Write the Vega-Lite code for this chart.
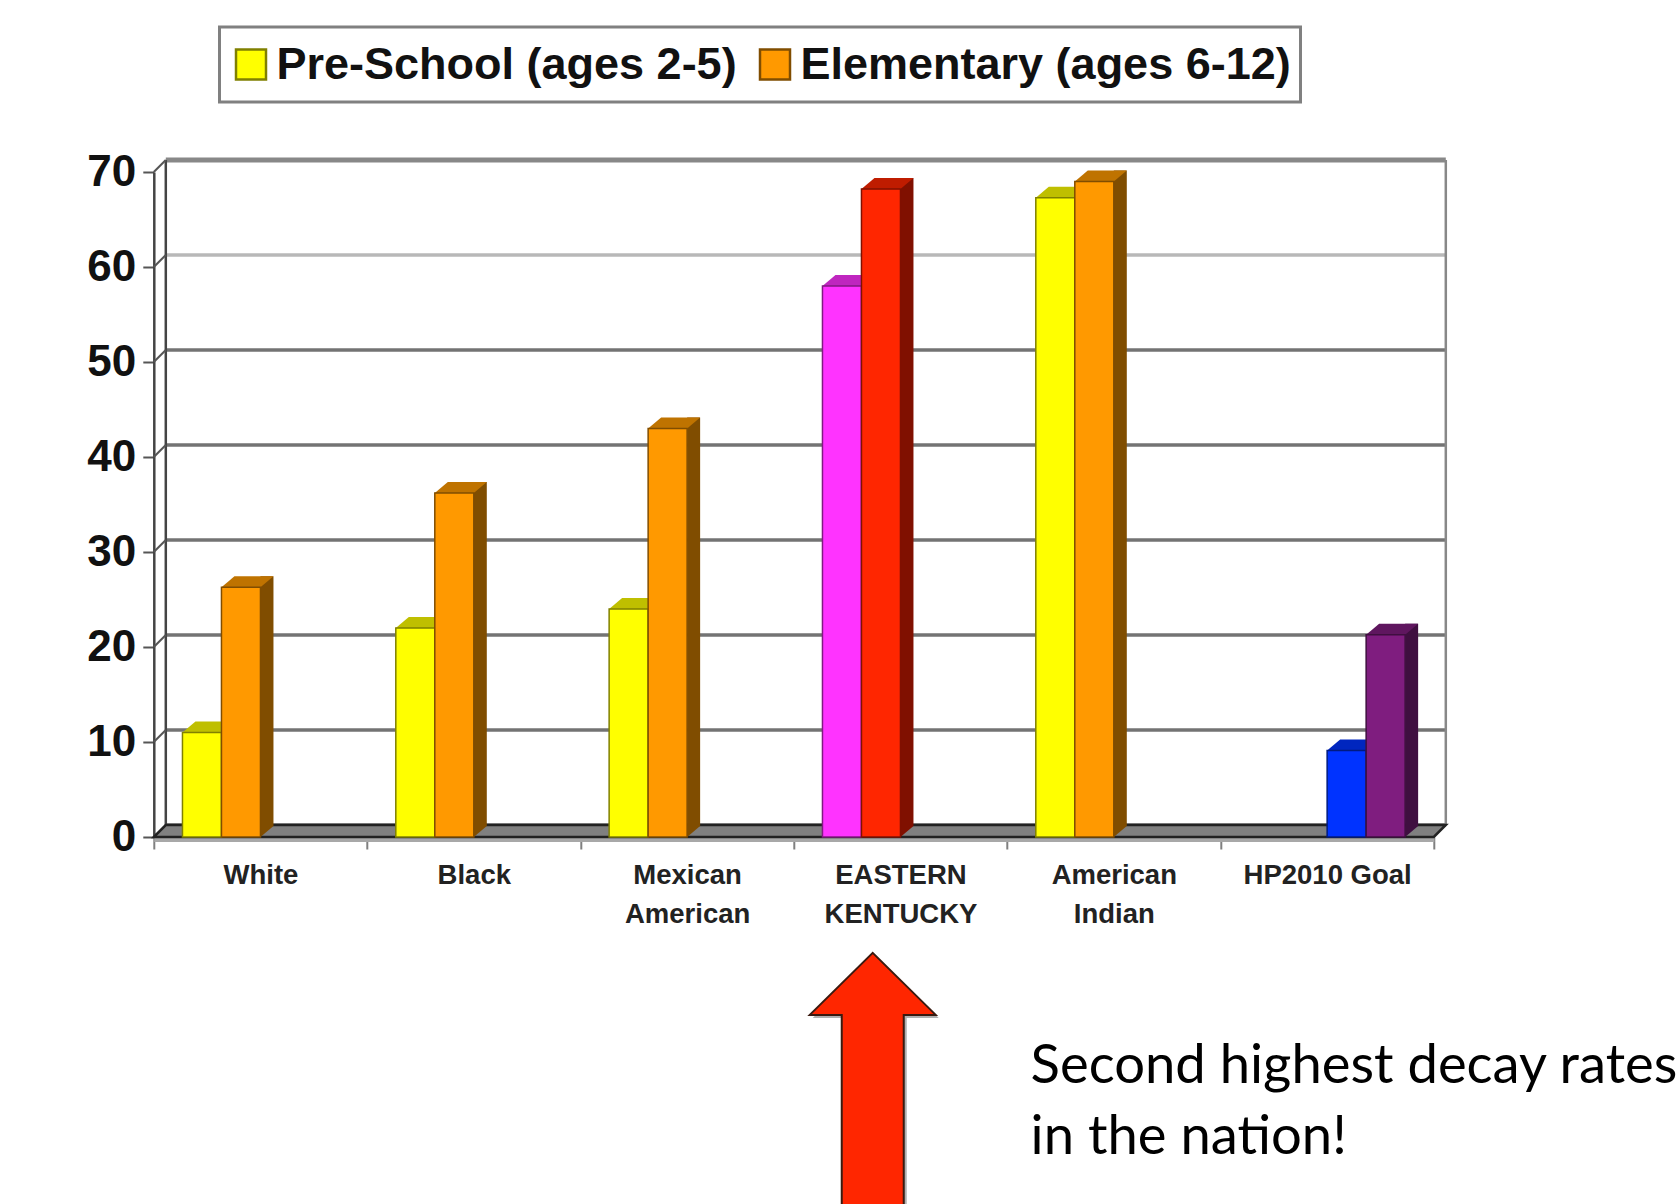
{
"$schema":"https://vega.github.io/schema/vega-lite/v6.json",
"width":1280,"height":665,
"autosize":{"type":"none"},
"padding":{"left":153.8,"top":172,"right":245.2,"bottom":367},
"background":"#ffffff",
"config":{"view":{"stroke":null},"legend":{"strokeWidth":3}},
"datasets":{
"bars":[
{"group":"White","series":"Pre-School","key":"Pre-School (ages 2-5)","rate":11},
{"group":"White","series":"Elementary","key":"Elementary (ages 6-12)","rate":26.3},
{"group":"Black","series":"Pre-School","key":"Pre-School (ages 2-5)","rate":22},
{"group":"Black","series":"Elementary","key":"Elementary (ages 6-12)","rate":36.2},
{"group":"Mexican American","series":"Pre-School","key":"Pre-School (ages 2-5)","rate":24},
{"group":"Mexican American","series":"Elementary","key":"Elementary (ages 6-12)","rate":43},
{"group":"EASTERN KENTUCKY","series":"Pre-School","key":"Eastern Kentucky Pre-School","rate":58},
{"group":"EASTERN KENTUCKY","series":"Elementary","key":"Eastern Kentucky Elementary","rate":68.2},
{"group":"American Indian","series":"Pre-School","key":"Pre-School (ages 2-5)","rate":67.3},
{"group":"American Indian","series":"Elementary","key":"Elementary (ages 6-12)","rate":69},
{"group":"HP2010 Goal","series":"Goal Pre-School","key":"HP2010 Goal Pre-School","rate":9.1},
{"group":"HP2010 Goal","series":"Goal Elementary","key":"HP2010 Goal Elementary","rate":21.3}
],
"grid":[{"group":"White","v":0},{"group":"White","v":10},{"group":"White","v":20},{"group":"White","v":30},{"group":"White","v":40},{"group":"White","v":50},{"group":"White","v":60},{"group":"White","v":70}],
"wall":[{"group":"White","from":0,"to":70},{"group":"HP2010 Goal","from":0,"to":70}],
"arrow":[{"group":"EASTERN KENTUCKY","at":-12.2}],
"note":[{"group":"American Indian","at":-25.9,"line":"Second highest decay rates"},{"group":"American Indian","at":-33.4,"line":"in the nation!"}]
},
"layer":[
{"data":{"name":"grid"},
 "mark":{"type":"rule","xOffset":12,"x2Offset":12,"yOffset":-12},
 "encoding":{
  "y":{"field":"v","type":"quantitative","scale":{"domain":[0,70],"nice":false},
   "axis":{"values":[0,10,20,30,40,50,60,70],"title":null,"grid":false,"domainColor":"#444444","domainWidth":2.5,"tickColor":"#555555","tickWidth":2,"tickSize":11,"labelFont":"Liberation Sans","labelFontWeight":"bold","labelFontSize":44,"labelColor":"#111111","labelPadding":7}},
  "x":{"field":"group","type":"nominal","bandPosition":0,
   "scale":{"type":"band","paddingInner":0,"paddingOuter":0,"domain":["White","Black","Mexican American","EASTERN KENTUCKY","American Indian","HP2010 Goal"]},
   "axis":{"title":null,"labelAngle":0,"domainColor":"#a8a8a8","domainWidth":9,"tickColor":"#808080","tickWidth":2,"tickSize":12,"tickBand":"extent","labelFont":"Liberation Sans","labelFontWeight":"bold","labelFontSize":27.5,"labelColor":"#222222","labelPadding":12.5,"labelLimit":0,"labelLineHeight":38.5,"labelBaseline":"top","labelExpr":"datum.label === 'HP2010 Goal' ? datum.label : split(datum.label, ' ')"}},
  "x2":{"datum":"HP2010 Goal","bandPosition":1},
  "color":{"condition":[{"test":"datum.v === 60","value":"#b8b8b8"},{"test":"datum.v === 70","value":"#888888"}],"value":"#737373"},
  "strokeWidth":{"condition":[{"test":"datum.v === 70","value":5}],"value":3.5}
 }},
{"data":{"name":"wall"},
 "mark":{"type":"rule","xOffset":12,"yOffset":-12,"y2Offset":-12,"strokeWidth":2.5},
 "encoding":{
  "x":{"field":"group","type":"nominal","bandPosition":0},
  "y":{"field":"from","type":"quantitative"},
  "y2":{"field":"to"},
  "color":{"value":"#444444"},
  "opacity":{"condition":{"test":"datum.group === 'White'","value":1},"value":0}
 }},
{"data":{"name":"wall"},
 "mark":{"type":"rule","xOffset":12,"yOffset":-12,"y2Offset":-12,"strokeWidth":2.5},
 "encoding":{
  "x":{"field":"group","type":"nominal","bandPosition":1},
  "y":{"field":"from","type":"quantitative"},
  "y2":{"field":"to"},
  "color":{"value":"#888888"},
  "opacity":{"condition":{"test":"datum.group === 'White'","value":0},"value":1}
 }},
{"data":{"name":"grid"},
 "mark":{"type":"point","shape":"M0,0L12,-12","size":4,"filled":false,"stroke":"#555555","strokeWidth":2,"opacity":1},
 "encoding":{"x":{"field":"group","type":"nominal","bandPosition":0},"y":{"field":"v","type":"quantitative"}}},
{"data":{"values":[{"group":"White","v":0}]},
 "mark":{"type":"point","shape":"M0,0L1280,0L1292,-12L12,-12Z","size":4,"filled":true,"fill":"#808080","stroke":"#222222","strokeWidth":2.5,"opacity":1},
 "encoding":{"x":{"field":"group","type":"nominal","bandPosition":0},"y":{"field":"v","type":"quantitative"}}},
{"data":{"name":"bars"},
 "mark":{"type":"bar","width":13,"yOffset":-11,"y2Offset":-11},
 "encoding":{
  "x":{"field":"group","type":"nominal"},
  "xOffset":{"field":"series","scale":{"type":"band","domain":["Pre-School","Elementary","Goal Pre-School","Goal Elementary"],"paddingInner":0,"paddingOuter":0.735,"range":[26,239.33]}},
  "y":{"field":"rate","type":"quantitative"},
  "y2":{"datum":0},
  "color":{"field":"key","legend":null,"scale":{"domain":["Pre-School (ages 2-5)","Elementary (ages 6-12)","Eastern Kentucky Pre-School","Eastern Kentucky Elementary","HP2010 Goal Pre-School","HP2010 Goal Elementary"],"range":["#808000","#804D00","#801A80","#801000","#001A80","#3F0F40"]}}
 }},
{"data":{"name":"bars"},
 "mark":{"type":"point","shape":"M19.5,0L19.5,-11L32.5,-11Z","size":4,"filled":true,"opacity":1},
 "encoding":{
  "x":{"field":"group","type":"nominal"},
  "xOffset":{"field":"series","scale":{"type":"band","domain":["Pre-School","Elementary","Goal Pre-School","Goal Elementary"],"paddingInner":0,"paddingOuter":0.735}},
  "y":{"datum":0},
  "color":{"field":"key","legend":null,"scale":{"domain":["Pre-School (ages 2-5)","Elementary (ages 6-12)","Eastern Kentucky Pre-School","Eastern Kentucky Elementary","HP2010 Goal Pre-School","HP2010 Goal Elementary"],"range":["#808000","#804D00","#801A80","#801000","#001A80","#3F0F40"]}}
 }},
{"data":{"name":"bars"},
 "mark":{"type":"point","shape":"M-19.5,0L19.5,0L32.5,-11L-6.5,-11Z","size":4,"filled":true,"opacity":1},
 "encoding":{
  "x":{"field":"group","type":"nominal"},
  "xOffset":{"field":"series","scale":{"type":"band","domain":["Pre-School","Elementary","Goal Pre-School","Goal Elementary"],"paddingInner":0,"paddingOuter":0.735}},
  "y":{"field":"rate","type":"quantitative"},
  "color":{"field":"key","legend":null,"scale":{"domain":["Pre-School (ages 2-5)","Elementary (ages 6-12)","Eastern Kentucky Pre-School","Eastern Kentucky Elementary","HP2010 Goal Pre-School","HP2010 Goal Elementary"],"range":["#BFBF00","#BF7300","#BF26BF","#BF1C00","#0026BF","#5F165F"]}}
 }},
{"data":{"name":"bars"},
 "mark":{"type":"bar","strokeWidth":1.5},
 "encoding":{
  "x":{"field":"group","type":"nominal"},
  "xOffset":{"field":"series","scale":{"type":"band","domain":["Pre-School","Elementary","Goal Pre-School","Goal Elementary"],"paddingInner":0,"paddingOuter":0.735}},
  "y":{"field":"rate","type":"quantitative"},
  "y2":{"datum":0},
  "color":{"field":"key","title":null,
   "scale":{"domain":["Pre-School (ages 2-5)","Elementary (ages 6-12)","Eastern Kentucky Pre-School","Eastern Kentucky Elementary","HP2010 Goal Pre-School","HP2010 Goal Elementary"],"range":["#FFFF00","#FF9900","#FF33FF","#FF2600","#0033FF","#7F1D7F"]},
   "legend":{"values":["Pre-School (ages 2-5)","Elementary (ages 6-12)"],"orient":"none","legendX":65.7,"legendY":-145,"direction":"horizontal","columns":2,"symbolType":"square","symbolSize":900,"symbolStrokeColor":"#807a30","symbolStrokeWidth":2.5,"labelFont":"Liberation Sans","labelFontWeight":"bold","labelFontSize":45,"labelColor":"#111111","labelLimit":0,"labelOffset":3,"columnPadding":15,"strokeColor":"#808080","fillColor":"#ffffff","padding":9,"clipHeight":57}},
  "stroke":{"field":"key","legend":null,"scale":{"domain":["Pre-School (ages 2-5)","Elementary (ages 6-12)","Eastern Kentucky Pre-School","Eastern Kentucky Elementary","HP2010 Goal Pre-School","HP2010 Goal Elementary"],"range":["#808000","#804D00","#801A80","#801000","#001A80","#3F0F40"]}}
 }},
{"data":{"name":"arrow"},
 "mark":{"type":"point","shape":"M3,3L66,65L34,65L34,270L-28,270L-28,65L-60,65Z","size":4,"filled":true,"fill":"#b0b0b0","opacity":1},
 "encoding":{"x":{"field":"group","type":"nominal","bandPosition":0.37},"y":{"field":"at","type":"quantitative"}}},
{"data":{"name":"arrow"},
 "mark":{"type":"point","shape":"M0,0L63,62L31,62L31,270L-31,270L-31,62L-63,62Z","size":4,"filled":true,"fill":"#FF2600","stroke":"#3a1a10","strokeWidth":2,"opacity":1},
 "encoding":{"x":{"field":"group","type":"nominal","bandPosition":0.37},"y":{"field":"at","type":"quantitative"}}},
{"data":{"name":"note"},
 "mark":{"type":"text","align":"left","baseline":"alphabetic","font":"Lato","fontSize":54.4,"color":"#000000"},
 "encoding":{"x":{"field":"group","type":"nominal","bandPosition":0.11},"y":{"field":"at","type":"quantitative"},"text":{"field":"line"}}}
],
"resolve":{"scale":{"color":"independent","stroke":"independent","xOffset":"independent"}}
}
